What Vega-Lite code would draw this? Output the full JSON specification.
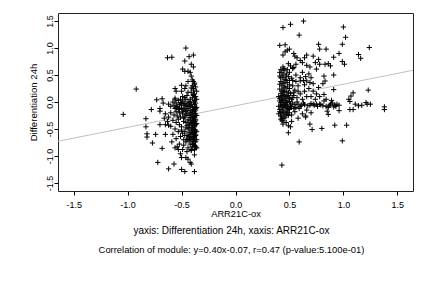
{
  "$schema": "https://vega.github.io/schema/vega-lite/v6.json",
  "width": 355,
  "height": 178,
  "autosize": {"type": "none"},
  "padding": {"left": 58, "top": 13, "right": 19, "bottom": 97},
  "background": "white",
  "datasets": {
    "fit": [{"x": -1.645, "y": -0.728}, {"x": 1.645, "y": 0.588}],
    "pts": [
      {"x": -1.04, "y": -0.23}, {"x": -0.92, "y": 0.24}, {"x": -0.46, "y": 1.0}, {"x": -0.63, "y": 0.82}, {"x": -0.59, "y": 0.83},
      {"x": -0.43, "y": 0.84}, {"x": -0.39, "y": 0.87}, {"x": -0.47, "y": 0.76}, {"x": -0.41, "y": 0.70}, {"x": -0.39, "y": 0.65},
      {"x": -0.49, "y": 0.61}, {"x": -0.47, "y": 0.57}, {"x": -0.44, "y": 0.57}, {"x": -0.42, "y": 0.55}, {"x": -0.40, "y": 0.41},
      {"x": -0.39, "y": 0.38}, {"x": -0.38, "y": 0.33}, {"x": -0.56, "y": 0.25}, {"x": -0.55, "y": 0.20}, {"x": -0.50, "y": 0.31},
      {"x": -0.47, "y": 0.25}, {"x": -0.50, "y": 0.20}, {"x": -0.39, "y": 0.25}, {"x": -0.39, "y": 0.14}, {"x": -0.73, "y": 0.04},
      {"x": -0.68, "y": 0.06}, {"x": -0.78, "y": -0.14}, {"x": -0.70, "y": -0.12}, {"x": -0.70, "y": -0.17}, {"x": -0.67, "y": -0.02},
      {"x": -0.62, "y": -0.04}, {"x": -0.60, "y": -0.08}, {"x": -0.56, "y": 0.07}, {"x": -0.56, "y": 0.04}, {"x": -0.83, "y": -0.31},
      {"x": -0.83, "y": -0.46}, {"x": -0.82, "y": -0.59}, {"x": -0.82, "y": -0.65}, {"x": -0.77, "y": -0.76}, {"x": -0.74, "y": -0.60},
      {"x": -0.68, "y": -0.86}, {"x": -0.65, "y": -0.60}, {"x": -0.62, "y": -0.43}, {"x": -0.70, "y": -0.42}, {"x": -0.65, "y": -0.42},
      {"x": -0.65, "y": -0.22}, {"x": -0.72, "y": -1.12}, {"x": -0.62, "y": -1.24}, {"x": -0.57, "y": -1.15}, {"x": -0.54, "y": -0.83},
      {"x": -0.53, "y": -0.88}, {"x": -0.51, "y": -0.96}, {"x": -0.50, "y": -1.03}, {"x": -0.46, "y": -1.03}, {"x": -0.50, "y": -1.25},
      {"x": -0.47, "y": -1.29}, {"x": -0.44, "y": -1.06}, {"x": -0.42, "y": -1.12}, {"x": -0.41, "y": -1.15}, {"x": -0.38, "y": -1.29},
      {"x": -0.38, "y": -0.98}, {"x": -0.41, "y": -0.88}, {"x": -0.37, "y": -0.85},
      {"x": -0.38, "y": 0.35}, {"x": -0.40, "y": 0.30}, {"x": -0.37, "y": 0.28}, {"x": -0.39, "y": 0.22}, {"x": -0.41, "y": 0.18},
      {"x": -0.38, "y": 0.15}, {"x": -0.37, "y": 0.10}, {"x": -0.40, "y": 0.08}, {"x": -0.42, "y": 0.05}, {"x": -0.38, "y": 0.03},
      {"x": -0.39, "y": 0.00}, {"x": -0.37, "y": -0.02}, {"x": -0.41, "y": -0.04}, {"x": -0.43, "y": -0.06}, {"x": -0.38, "y": -0.08},
      {"x": -0.40, "y": -0.10}, {"x": -0.37, "y": -0.12}, {"x": -0.39, "y": -0.14}, {"x": -0.42, "y": -0.16}, {"x": -0.38, "y": -0.18},
      {"x": -0.40, "y": -0.20}, {"x": -0.37, "y": -0.22}, {"x": -0.41, "y": -0.24}, {"x": -0.39, "y": -0.26}, {"x": -0.38, "y": -0.28},
      {"x": -0.40, "y": -0.30}, {"x": -0.37, "y": -0.32}, {"x": -0.42, "y": -0.34}, {"x": -0.38, "y": -0.36}, {"x": -0.39, "y": -0.38},
      {"x": -0.41, "y": -0.40}, {"x": -0.37, "y": -0.42}, {"x": -0.40, "y": -0.44}, {"x": -0.38, "y": -0.46}, {"x": -0.43, "y": -0.48},
      {"x": -0.39, "y": -0.50}, {"x": -0.37, "y": -0.52}, {"x": -0.41, "y": -0.54}, {"x": -0.38, "y": -0.56}, {"x": -0.40, "y": -0.58},
      {"x": -0.42, "y": -0.60}, {"x": -0.37, "y": -0.62}, {"x": -0.39, "y": -0.64}, {"x": -0.41, "y": -0.66}, {"x": -0.38, "y": -0.68},
      {"x": -0.40, "y": -0.70}, {"x": -0.43, "y": -0.72}, {"x": -0.37, "y": -0.74}, {"x": -0.39, "y": -0.76}, {"x": -0.42, "y": -0.78},
      {"x": -0.38, "y": -0.80}, {"x": -0.40, "y": -0.83}, {"x": -0.44, "y": -0.85}, {"x": -0.38, "y": -0.88}, {"x": -0.41, "y": -0.90},
      {"x": -0.45, "y": -0.92},
      {"x": -0.45, "y": 0.12}, {"x": -0.46, "y": 0.05}, {"x": -0.44, "y": 0.00}, {"x": -0.47, "y": -0.03}, {"x": -0.45, "y": -0.08},
      {"x": -0.44, "y": -0.12}, {"x": -0.46, "y": -0.18}, {"x": -0.45, "y": -0.22}, {"x": -0.47, "y": -0.28}, {"x": -0.44, "y": -0.33},
      {"x": -0.46, "y": -0.38}, {"x": -0.45, "y": -0.44}, {"x": -0.44, "y": -0.50}, {"x": -0.47, "y": -0.55}, {"x": -0.45, "y": -0.62},
      {"x": -0.44, "y": -0.68}, {"x": -0.46, "y": -0.74}, {"x": -0.48, "y": -0.80}, {"x": -0.43, "y": -0.02}, {"x": -0.43, "y": -0.25},
      {"x": -0.43, "y": -0.42}, {"x": -0.43, "y": -0.57},
      {"x": -0.58, "y": 0.00}, {"x": -0.55, "y": -0.02}, {"x": -0.53, "y": 0.03}, {"x": -0.51, "y": -0.01}, {"x": -0.49, "y": 0.02},
      {"x": -0.57, "y": -0.06}, {"x": -0.54, "y": -0.08}, {"x": -0.52, "y": -0.05}, {"x": -0.50, "y": -0.07}, {"x": -0.48, "y": -0.04},
      {"x": -0.56, "y": -0.12}, {"x": -0.53, "y": -0.14}, {"x": -0.50, "y": -0.11}, {"x": -0.48, "y": -0.15}, {"x": -0.55, "y": -0.18},
      {"x": -0.52, "y": -0.20}, {"x": -0.49, "y": -0.22}, {"x": -0.54, "y": -0.26}, {"x": -0.51, "y": -0.28}, {"x": -0.48, "y": -0.30},
      {"x": -0.60, "y": -0.20}, {"x": -0.62, "y": -0.28}, {"x": -0.58, "y": -0.34}, {"x": -0.55, "y": -0.38}, {"x": -0.52, "y": -0.42},
      {"x": -0.50, "y": -0.46}, {"x": -0.56, "y": -0.50}, {"x": -0.53, "y": -0.55}, {"x": -0.49, "y": -0.58}, {"x": -0.51, "y": -0.64},
      {"x": -0.48, "y": -0.70}, {"x": -0.55, "y": -0.68}, {"x": -0.58, "y": -0.60}, {"x": -0.60, "y": -0.45}, {"x": -0.63, "y": -0.36},
      {"x": -0.66, "y": -0.30}, {"x": -0.59, "y": -0.74}, {"x": -0.52, "y": -0.78}, {"x": -0.56, "y": -0.85}, {"x": -0.49, "y": -0.88},
      {"x": -0.36, "y": 0.20}, {"x": -0.36, "y": 0.05}, {"x": -0.36, "y": -0.10}, {"x": -0.36, "y": -0.25}, {"x": -0.36, "y": -0.40},
      {"x": -0.36, "y": -0.55}, {"x": -0.36, "y": -0.70}, {"x": -0.36, "y": -0.85}, {"x": -0.39, "y": 0.12}, {"x": -0.41, "y": 0.26},
      {"x": -0.38, "y": -0.05}, {"x": -0.40, "y": -0.17}, {"x": -0.42, "y": -0.29}, {"x": -0.39, "y": -0.33}, {"x": -0.38, "y": -0.43},
      {"x": -0.41, "y": -0.47}, {"x": -0.39, "y": -0.57}, {"x": -0.37, "y": -0.61}, {"x": -0.42, "y": -0.69}, {"x": -0.39, "y": -0.73},
      {"x": -0.40, "y": -0.79}, {"x": -0.37, "y": -0.82}, {"x": -0.42, "y": -0.08}, {"x": -0.42, "y": -0.20}, {"x": -0.42, "y": 0.00},
      {"x": -0.40, "y": -0.36}, {"x": -0.40, "y": -0.52}, {"x": -0.38, "y": -0.64}, {"x": -0.37, "y": -0.35}, {"x": -0.37, "y": -0.15},
      {"x": -0.47, "y": 0.08}, {"x": -0.49, "y": 0.10}, {"x": -0.51, "y": 0.05}, {"x": -0.46, "y": -0.06}, {"x": -0.50, "y": -0.02},
      {"x": -0.47, "y": -0.12}, {"x": -0.45, "y": -0.15}, {"x": -0.52, "y": -0.12}, {"x": -0.49, "y": -0.18}, {"x": -0.46, "y": -0.24},
      {"x": -0.48, "y": -0.36}, {"x": -0.46, "y": -0.48}, {"x": -0.50, "y": -0.52}, {"x": -0.47, "y": -0.62}, {"x": -0.45, "y": -0.70},
      {"x": -0.55, "y": -0.10}, {"x": -0.53, "y": -0.32}, {"x": -0.57, "y": -0.24}, {"x": -0.44, "y": -0.38}, {"x": -0.43, "y": -0.64},
      {"x": -0.44, "y": 0.18}, {"x": -0.46, "y": 0.30}, {"x": -0.41, "y": 0.48}, {"x": -0.44, "y": 0.38},
      {"x": 0.44, "y": 1.38}, {"x": 0.51, "y": 1.44}, {"x": 0.63, "y": 1.50}, {"x": 0.59, "y": 1.24}, {"x": 1.00, "y": 1.39},
      {"x": 1.02, "y": 1.20}, {"x": 0.99, "y": 1.07}, {"x": 0.41, "y": 1.05}, {"x": 0.46, "y": 1.06}, {"x": 0.48, "y": 0.96},
      {"x": 0.50, "y": 0.98}, {"x": 0.46, "y": 0.93}, {"x": 0.44, "y": 0.87}, {"x": 0.54, "y": 0.90}, {"x": 0.77, "y": 1.07},
      {"x": 0.78, "y": 0.98}, {"x": 0.84, "y": 0.98}, {"x": 0.72, "y": 0.85}, {"x": 0.66, "y": 0.87}, {"x": 0.64, "y": 0.82},
      {"x": 0.60, "y": 0.77}, {"x": 0.62, "y": 0.73}, {"x": 0.57, "y": 0.82}, {"x": 0.55, "y": 0.85}, {"x": 0.49, "y": 0.71},
      {"x": 0.51, "y": 0.67}, {"x": 0.54, "y": 0.64}, {"x": 0.56, "y": 0.70}, {"x": 0.66, "y": 0.68}, {"x": 0.69, "y": 0.65},
      {"x": 0.74, "y": 0.73}, {"x": 0.77, "y": 0.79}, {"x": 0.78, "y": 0.70}, {"x": 0.75, "y": 0.61}, {"x": 0.83, "y": 0.70},
      {"x": 0.86, "y": 0.71}, {"x": 0.88, "y": 0.67}, {"x": 0.91, "y": 0.83}, {"x": 0.96, "y": 0.90}, {"x": 0.99, "y": 0.75},
      {"x": 1.01, "y": 0.70}, {"x": 1.14, "y": 0.88}, {"x": 1.16, "y": 0.81}, {"x": 1.24, "y": 1.01}, {"x": 0.91, "y": 0.50},
      {"x": 0.82, "y": 0.48}, {"x": 0.83, "y": 0.39}, {"x": 0.81, "y": 0.34}, {"x": 0.77, "y": 0.27}, {"x": 0.72, "y": 0.34},
      {"x": 0.69, "y": 0.36}, {"x": 0.66, "y": 0.39}, {"x": 0.63, "y": 0.40}, {"x": 0.60, "y": 0.39}, {"x": 0.91, "y": 0.23},
      {"x": 0.82, "y": 0.14}, {"x": 0.84, "y": 0.05}, {"x": 0.89, "y": 0.03}, {"x": 1.09, "y": 0.17}, {"x": 1.07, "y": 0.11},
      {"x": 1.05, "y": 0.05}, {"x": 1.06, "y": 0.01}, {"x": 1.23, "y": 0.22}, {"x": 1.11, "y": -0.04}, {"x": 1.14, "y": -0.07},
      {"x": 1.17, "y": -0.06}, {"x": 1.21, "y": -0.01}, {"x": 1.22, "y": -0.04}, {"x": 1.25, "y": -0.04}, {"x": 1.38, "y": -0.09},
      {"x": 1.38, "y": -0.14}, {"x": 1.06, "y": -0.14}, {"x": 1.09, "y": -0.14}, {"x": 0.96, "y": -0.06}, {"x": 0.96, "y": -0.16},
      {"x": 0.92, "y": -0.06}, {"x": 0.91, "y": -0.09}, {"x": 0.88, "y": -0.04}, {"x": 0.86, "y": -0.10}, {"x": 0.85, "y": -0.17},
      {"x": 0.84, "y": -0.08}, {"x": 0.82, "y": 0.02}, {"x": 0.78, "y": -0.04}, {"x": 0.75, "y": -0.04}, {"x": 0.72, "y": -0.04},
      {"x": 0.69, "y": -0.06}, {"x": 0.86, "y": -0.23}, {"x": 0.65, "y": -0.26}, {"x": 0.65, "y": -0.28}, {"x": 0.69, "y": -0.41},
      {"x": 0.71, "y": -0.51}, {"x": 0.80, "y": -0.49}, {"x": 0.92, "y": -0.43}, {"x": 1.03, "y": -0.43}, {"x": 0.49, "y": -0.44},
      {"x": 0.51, "y": -0.46}, {"x": 0.49, "y": -0.57}, {"x": 0.43, "y": -0.35}, {"x": 0.44, "y": -0.41}, {"x": 0.59, "y": -0.74},
      {"x": 0.99, "y": -0.72}, {"x": 0.43, "y": -1.17},
      {"x": 0.42, "y": 0.60}, {"x": 0.45, "y": 0.58}, {"x": 0.48, "y": 0.60}, {"x": 0.43, "y": 0.54}, {"x": 0.47, "y": 0.52},
      {"x": 0.50, "y": 0.55}, {"x": 0.41, "y": 0.48}, {"x": 0.44, "y": 0.45}, {"x": 0.46, "y": 0.42}, {"x": 0.49, "y": 0.47},
      {"x": 0.52, "y": 0.44}, {"x": 0.42, "y": 0.38}, {"x": 0.45, "y": 0.35}, {"x": 0.48, "y": 0.36}, {"x": 0.43, "y": 0.30},
      {"x": 0.46, "y": 0.28}, {"x": 0.50, "y": 0.32}, {"x": 0.53, "y": 0.30}, {"x": 0.41, "y": 0.24}, {"x": 0.44, "y": 0.22},
      {"x": 0.47, "y": 0.20}, {"x": 0.50, "y": 0.25}, {"x": 0.55, "y": 0.22}, {"x": 0.42, "y": 0.16}, {"x": 0.45, "y": 0.14},
      {"x": 0.48, "y": 0.12}, {"x": 0.51, "y": 0.16}, {"x": 0.43, "y": 0.08}, {"x": 0.46, "y": 0.06}, {"x": 0.49, "y": 0.09},
      {"x": 0.52, "y": 0.05}, {"x": 0.41, "y": 0.02}, {"x": 0.44, "y": 0.00}, {"x": 0.47, "y": -0.01}, {"x": 0.50, "y": 0.01},
      {"x": 0.53, "y": -0.02}, {"x": 0.42, "y": -0.04}, {"x": 0.45, "y": -0.05}, {"x": 0.48, "y": -0.06}, {"x": 0.51, "y": -0.04},
      {"x": 0.55, "y": -0.05}, {"x": 0.58, "y": -0.04}, {"x": 0.61, "y": -0.06}, {"x": 0.43, "y": -0.09}, {"x": 0.46, "y": -0.10},
      {"x": 0.49, "y": -0.12}, {"x": 0.52, "y": -0.09}, {"x": 0.41, "y": -0.14}, {"x": 0.44, "y": -0.15}, {"x": 0.47, "y": -0.17},
      {"x": 0.50, "y": -0.14}, {"x": 0.42, "y": -0.20}, {"x": 0.45, "y": -0.22}, {"x": 0.48, "y": -0.19}, {"x": 0.43, "y": -0.26},
      {"x": 0.46, "y": -0.28}, {"x": 0.49, "y": -0.25}, {"x": 0.42, "y": -0.32}, {"x": 0.45, "y": -0.30}, {"x": 0.56, "y": 0.38},
      {"x": 0.58, "y": 0.30}, {"x": 0.54, "y": 0.12}, {"x": 0.57, "y": 0.08}, {"x": 0.60, "y": 0.15}, {"x": 0.62, "y": 0.05},
      {"x": 0.56, "y": -0.10}, {"x": 0.59, "y": -0.12}, {"x": 0.55, "y": -0.18}, {"x": 0.52, "y": -0.24}, {"x": 0.56, "y": 0.50},
      {"x": 0.53, "y": 0.62}, {"x": 0.44, "y": 0.65}, {"x": 0.40, "y": 0.10}, {"x": 0.40, "y": -0.08}, {"x": 0.40, "y": -0.22},
      {"x": 0.64, "y": 0.20}, {"x": 0.66, "y": 0.10}, {"x": 0.63, "y": -0.02}, {"x": 0.44, "y": 0.50}, {"x": 0.47, "y": 0.40},
      {"x": 0.43, "y": 0.12}, {"x": 0.47, "y": 0.03}, {"x": 0.44, "y": -0.11}, {"x": 0.42, "y": -0.01}, {"x": 0.45, "y": 0.18},
      {"x": 0.48, "y": -0.09}, {"x": 0.46, "y": -0.02}, {"x": 0.43, "y": 0.04},
      {"x": 0.64, "y": -0.05}, {"x": 0.67, "y": -0.07}, {"x": 0.70, "y": -0.03}, {"x": 0.73, "y": -0.06}, {"x": 0.76, "y": -0.08},
      {"x": 0.79, "y": -0.05}, {"x": 0.81, "y": -0.07}, {"x": 0.87, "y": -0.06}, {"x": 0.90, "y": -0.02}, {"x": 0.93, "y": -0.08},
      {"x": 0.94, "y": -0.04},
      {"x": 0.60, "y": 0.45}, {"x": 0.62, "y": 0.55}, {"x": 0.65, "y": 0.47}, {"x": 0.68, "y": 0.52}, {"x": 0.70, "y": 0.45},
      {"x": 0.64, "y": 0.32}, {"x": 0.68, "y": 0.25}, {"x": 0.72, "y": 0.20}, {"x": 0.75, "y": 0.15}, {"x": 0.70, "y": 0.10},
      {"x": 0.74, "y": 0.05}, {"x": 0.78, "y": 0.10}, {"x": 0.66, "y": -0.15}, {"x": 0.70, "y": -0.20}, {"x": 0.62, "y": -0.22},
      {"x": 0.58, "y": -0.30}, {"x": 0.52, "y": -0.36}, {"x": 0.47, "y": -0.38},
      {"x": 0.41, "y": 0.55}, {"x": 0.42, "y": 0.45}, {"x": 0.41, "y": 0.33}, {"x": 0.43, "y": 0.20}, {"x": 0.41, "y": 0.06},
      {"x": 0.42, "y": -0.07}, {"x": 0.41, "y": -0.18}, {"x": 0.42, "y": -0.26}, {"x": 0.44, "y": 0.35}, {"x": 0.45, "y": 0.26},
      {"x": 0.46, "y": 0.10}, {"x": 0.44, "y": 0.03}, {"x": 0.46, "y": -0.07}, {"x": 0.44, "y": -0.19}, {"x": 0.47, "y": -0.23},
      {"x": 0.48, "y": 0.28}, {"x": 0.49, "y": 0.18}, {"x": 0.50, "y": 0.06}, {"x": 0.51, "y": -0.08}, {"x": 0.50, "y": -0.20},
      {"x": 0.53, "y": 0.40}, {"x": 0.54, "y": 0.18}, {"x": 0.53, "y": 0.08}, {"x": 0.54, "y": -0.12}, {"x": 0.57, "y": 0.00},
      {"x": 0.58, "y": 0.20}, {"x": 0.60, "y": -0.08}, {"x": 0.43, "y": -0.30}, {"x": 0.44, "y": -0.35}, {"x": 0.47, "y": 0.48},
      {"x": 0.50, "y": 0.40}, {"x": 0.45, "y": 0.62}
    ]
  },
  "title": {
    "text": "yaxis: Differentiation 24h, xaxis: ARR21C-ox",
    "subtitle": "Correlation of module: y=0.40x-0.07, r=0.47 (p-value:5.100e-01)",
    "orient": "bottom",
    "anchor": "middle",
    "offset": 8,
    "dx": -4,
    "font": "Liberation Sans",
    "fontSize": 10,
    "fontWeight": "normal",
    "color": "#000",
    "subtitleFont": "Liberation Sans",
    "subtitleFontSize": 9.4,
    "subtitleColor": "#000",
    "subtitlePadding": 10
  },
  "layer": [
    {
      "data": {"name": "fit"},
      "mark": {"type": "line", "color": "#c0c0c0", "strokeWidth": 1, "clip": true},
      "encoding": {
        "x": {"field": "x", "type": "quantitative",
              "scale": {"domain": [-1.645, 1.645], "nice": false, "zero": false},
              "axis": {"values": [-1.5, -1, -0.5, 0, 0.5, 1, 1.5], "tickCount": 12, "format": ".1f", "title": "ARR21C-ox"}},
        "y": {"field": "y", "type": "quantitative",
              "scale": {"domain": [-1.65, 1.65], "nice": false, "zero": false},
              "axis": {"values": [-1.5, -1, -0.5, 0, 0.5, 1, 1.5], "tickCount": 12, "format": ".1f", "title": "Differentiation 24h", "labelAngle": 270, "labelOverlap": false, "labelFlush": false}}
      }
    },
    {
      "data": {"name": "pts"},
      "mark": {"type": "point", "shape": "M-1,0L1,0M0,-1L0,1", "size": 28, "filled": false, "stroke": "#000", "strokeWidth": 1, "opacity": 1},
      "encoding": {
        "x": {"field": "x", "type": "quantitative"},
        "y": {"field": "y", "type": "quantitative"}
      }
    }
  ],
  "config": {
    "locale": {"number": {"decimal": ".", "thousands": ",", "grouping": [3], "currency": ["$", ""], "minus": "-"}},
    "view": {"stroke": "#222", "strokeWidth": 1},
    "axis": {
      "domain": false, "grid": false, "tickColor": "#000", "tickSize": 4,
      "labelFont": "Liberation Sans", "labelFontSize": 9, "labelColor": "#000",
      "titleFont": "Liberation Sans", "titleFontSize": 9.3, "titleFontWeight": "normal", "titleColor": "#000"
    },
    "axisX": {"labelPadding": 5, "titlePadding": 0},
    "axisY": {"labelPadding": 0, "titlePadding": 7, "titleFontSize": 9.6}
  }
}
